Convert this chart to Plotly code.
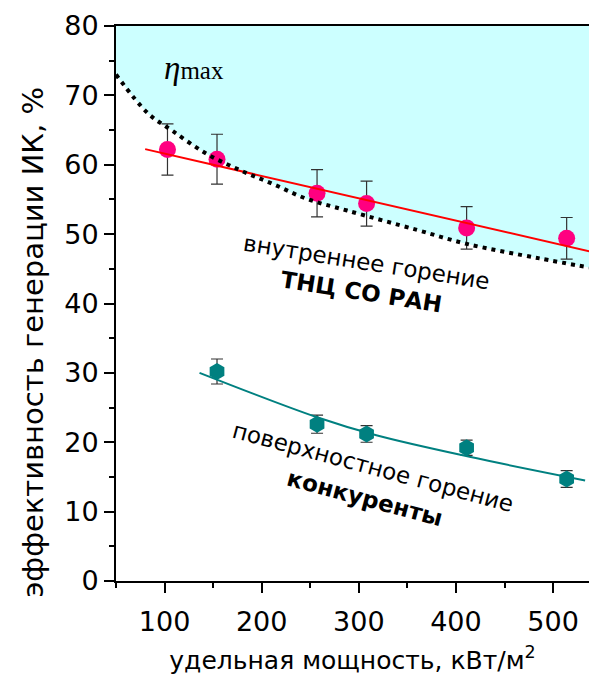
import plotly.graph_objects as go

# ---- data ----
power = [103, 154, 257, 308, 411, 514]
eff_internal = [62.2, 60.8, 55.9, 54.4, 50.9, 49.4]
err_internal = [3.7, 3.6, 3.4, 3.25, 3.05, 3.0]

power_surf = [154, 257, 308, 411, 514]
eff_surface = [30.2, 22.6, 21.2, 19.2, 14.7]
err_surface = [1.8, 1.3, 1.2, 1.1, 1.2]

fit_int_x = [80, 540]
fit_int_y = [62.25, 47.45]

fit_surf_x = [136, 257, 318, 414, 533]
fit_surf_y = [30.0, 23.6, 21.0, 17.9, 14.5]

eta_x = [50, 83, 108, 143, 178, 212, 246, 288, 360, 411, 486, 537]
eta_y = [73.0, 67.4, 64.9, 61.6, 59.2, 57.2, 55.1, 53.4, 50.6, 48.6, 46.5, 45.2]

x_range = [50, 537]
y_range = [0, 80]
x_ticks = [100, 200, 300, 400, 500]
y_ticks = [0, 10, 20, 30, 40, 50, 60, 70, 80]

FONT = "DejaVu Sans"

fig = go.Figure()

# fill above eta_max curve
fig.add_trace(go.Scatter(x=eta_x, y=[y_range[1]] * len(eta_x), mode="lines",
                         line=dict(width=0, color="rgba(0,0,0,0)"), showlegend=False,
                         hoverinfo="skip"))
fig.add_trace(go.Scatter(x=eta_x, y=eta_y, mode="lines", fill="tonexty", line_shape="spline",
                         fillcolor="rgb(204,255,255)", line=dict(width=0),
                         showlegend=False, hoverinfo="skip"))

# data points
fig.add_trace(go.Scatter(x=power, y=eff_internal, mode="markers",
                         marker=dict(symbol="circle", size=17, color="rgb(255,0,128)"),
                         error_y=dict(type="data", array=err_internal, color="rgb(50,50,50)",
                                      thickness=1.2, width=6),
                         showlegend=False))
fig.add_trace(go.Scatter(x=power_surf, y=eff_surface, mode="markers",
                         marker=dict(symbol="hexagon", size=17, color="rgb(0,128,128)"),
                         error_y=dict(type="data", array=err_surface, color="rgb(50,50,50)",
                                      thickness=1.2, width=6),
                         showlegend=False))

# fit lines
fig.add_trace(go.Scatter(x=fit_int_x, y=fit_int_y, mode="lines",
                         line=dict(color="rgb(255,0,0)", width=2), showlegend=False))
fig.add_trace(go.Scatter(x=fit_surf_x, y=fit_surf_y, mode="lines", line_shape="spline",
                         line=dict(color="rgb(0,128,128)", width=2), showlegend=False))

# eta_max dotted curve
fig.add_trace(go.Scatter(x=eta_x, y=eta_y, mode="lines", line_shape="spline",
                         line=dict(color="black", width=4, dash="4px,5px"),
                         showlegend=False))

annotations = [
    dict(x=130, y=74.0, text="<i><span style='font-size:33px'>η</span></i>max", showarrow=False,
         font=dict(family="Liberation Serif", size=25, color="black")),
    dict(x=307.5, y=46.0, text="внутреннее горение", showarrow=False, textangle=9,
         font=dict(family=FONT, size=23, color="black")),
    dict(x=303, y=41.6, text="<b>ТНЦ СО РАН</b>", showarrow=False, textangle=9,
         font=dict(family=FONT, size=23, color="black")),
    dict(x=314.7, y=16.4, text="поверхностное горение", showarrow=False, textangle=15,
         font=dict(family=FONT, size=23, color="black")),
    dict(x=306.4, y=12.0, text="<b>конкуренты</b>", showarrow=False, textangle=15,
         font=dict(family=FONT, size=23, color="black")),
    dict(xref="paper", yref="paper", x=-0.175, y=0.43, xanchor="center", yanchor="middle",
         text="эффективность генерации ИК, %", showarrow=False, textangle=-90,
         font=dict(family=FONT, size=29, color="black")),
]

fig.update_layout(
    width=589, height=675,
    margin=dict(l=116, r=0, t=26, b=94),
    paper_bgcolor="white", plot_bgcolor="white",
    font=dict(family=FONT, color="black"),
    annotations=annotations,
    xaxis=dict(range=x_range, tickvals=x_ticks, ticks="outside", ticklen=10, tickwidth=2,
               tickcolor="black", linecolor="black", linewidth=2, mirror=True,
               showgrid=False, zeroline=False, tickfont=dict(size=27, family=FONT),
               ticklabelstandoff=6,
               minor=dict(dtick=50, tick0=0, ticks="outside", ticklen=5, tickwidth=2,
                          tickcolor="black", showgrid=False),
               title=dict(text="удельная мощность, кВт/м<sup>2</sup>",
                          font=dict(size=25, family=FONT), standoff=16)),
    yaxis=dict(range=y_range, tickvals=y_ticks, ticks="outside", ticklen=10, tickwidth=2,
               tickcolor="black", linecolor="black", linewidth=2,
               showgrid=False, zeroline=False, tickfont=dict(size=27, family=FONT),
               minor=dict(dtick=5, tick0=0, ticks="outside", ticklen=5, tickwidth=2,
                          tickcolor="black", showgrid=False)),
)

fig.write_html("out.html")
